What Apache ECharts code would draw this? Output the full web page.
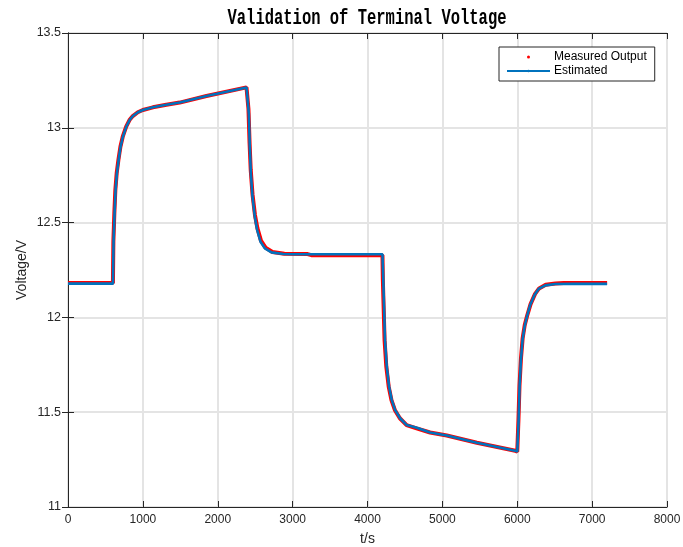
<!DOCTYPE html>
<html>
<head>
<meta charset="utf-8">
<script src="https://cdn.jsdelivr.net/npm/echarts@6/dist/echarts.min.js"></script>
<style>
  html, body { margin: 0; padding: 0; background: #fff; }
  #chart { width: 683px; height: 547px; }
</style>
</head>
<body>
<div id="chart"></div>
<script>
// Terminal voltage: measured samples vs. model estimate
const estTime = [0, 600, 609, 622, 635, 653, 676, 702, 733, 779, 823, 867, 934, 1001, 1134, 1314, 1492, 1849, 2384, 2400,
  2415, 2428, 2442, 2464, 2495, 2526, 2571, 2629, 2718, 2874, 3000, 4200,
  4211, 4221, 4234, 4257, 4288, 4324, 4368, 4435, 4524, 4658, 4836, 5059, 5461, 5973, 6000,
  6018, 6031, 6049, 6071, 6098, 6130, 6174, 6232, 6285, 6375, 6508, 6753, 7200];
const estVolt = [12.178, 12.178, 12.41, 12.55, 12.67, 12.76, 12.83, 12.90, 12.953, 13.006, 13.041, 13.062, 13.082, 13.094, 13.108, 13.122, 13.133, 13.168, 13.213, 13.215,
  13.076, 12.90, 12.76, 12.637, 12.531, 12.461, 12.399, 12.364, 12.343, 12.334, 12.333, 12.333,
  12.197, 12.056, 11.88, 11.741, 11.635, 11.564, 11.512, 11.468, 11.432, 11.418, 11.393, 11.377, 11.339, 11.297, 11.292,
  11.459, 11.635, 11.776, 11.882, 11.952, 12.005, 12.067, 12.12, 12.15, 12.169, 12.176, 12.177, 12.177];

const measTime = [0, 600, 606, 619, 632, 650, 673, 700, 731, 777, 821, 865, 932, 1000, 1134, 1314, 1492, 1849, 2384, 2400,
  2410, 2425, 2440, 2464, 2497, 2530, 2577, 2638, 2730, 2890, 3200, 3250, 4200,
  4205, 4215, 4228, 4251, 4283, 4320, 4365, 4432, 4522, 4656, 4836, 5059, 5461, 5973, 6000,
  6016, 6030, 6049, 6072, 6100, 6133, 6178, 6238, 6292, 6380, 6510, 6620, 7200];
const measVolt = [12.182, 12.182, 12.40, 12.55, 12.67, 12.76, 12.83, 12.90, 12.953, 13.006, 13.041, 13.062, 13.082, 13.094, 13.108, 13.122, 13.133, 13.168, 13.213, 13.218,
  13.10, 12.92, 12.78, 12.65, 12.54, 12.47, 12.405, 12.368, 12.345, 12.336, 12.334, 12.328, 12.328,
  12.20, 12.06, 11.88, 11.741, 11.635, 11.564, 11.512, 11.468, 11.432, 11.415, 11.393, 11.377, 11.339, 11.297, 11.292,
  11.46, 11.64, 11.78, 11.89, 11.96, 12.01, 12.07, 12.124, 12.153, 12.172, 12.179, 12.182, 12.182];

const xTicks = { min: 0, max: 8000, interval: 1000 };
const yTicks = { min: 11, max: 13.5, interval: 0.5 };

const pair = (ts, vs) => ts.map((t, i) => [t, vs[i]]);

const FONT = 'Liberation Sans, Arial, Helvetica, sans-serif';
const INK = '#262626';

const chart = echarts.init(document.getElementById('chart'), null, { renderer: 'canvas' });

const baseAxis = {
  axisLine: { show: true, lineStyle: { color: INK, width: 1 } },
  axisTick: { show: true, inside: true, length: 6, lineStyle: { color: INK, width: 1 } },
};

chart.setOption({
  animation: false,
  backgroundColor: '#fff',
  grid: { left: 68, right: 16, top: 33, bottom: 40, containLabel: false, outerBoundsMode: 'none' },
  graphic: [{
    type: 'text',
    x: 367, y: 18,
    scaleY: 1.45,
    style: {
      text: 'Validation of Terminal Voltage',
      font: 'bold 15.5px "Liberation Mono", "DejaVu Sans Mono", monospace',
      fill: '#000',
      align: 'center',
      verticalAlign: 'middle'
    }
  }],
  legend: {
    orient: 'vertical',
    left: 499, top: 47,
    padding: [4, 8, 4, 7],
    itemGap: 2,
    itemWidth: 43,
    itemHeight: 3,
    backgroundColor: '#fff',
    borderColor: INK,
    borderWidth: 1,
    textStyle: { fontFamily: FONT, fontSize: 12, color: '#000', padding: [0, 0, 0, -1] },
    data: [
      { name: 'Measured Output', icon: 'circle' },
      { name: 'Estimated' }
    ]
  },
  xAxis: [
    Object.assign({
      type: 'value', position: 'bottom',
      min: xTicks.min, max: xTicks.max, interval: xTicks.interval,
      name: 't/s', nameLocation: 'middle', nameGap: 25,
      nameTextStyle: { fontFamily: FONT, fontSize: 14, color: INK },
      axisLabel: { fontFamily: FONT, fontSize: 12, color: INK, margin: 7, formatter: v => String(v) },
      splitLine: { show: true, lineStyle: { color: '#e4e4e4', width: 2 } }
    }, baseAxis),
    Object.assign({
      type: 'value', position: 'top',
      min: xTicks.min, max: xTicks.max, interval: xTicks.interval,
      axisLabel: { show: false },
      splitLine: { show: false }
    }, baseAxis)
  ],
  yAxis: [
    Object.assign({
      type: 'value', position: 'left',
      min: yTicks.min, max: yTicks.max, interval: yTicks.interval,
      name: 'Voltage/V', nameLocation: 'middle', nameGap: 39, nameMoveOverlap: false,
      nameTextStyle: { fontFamily: FONT, fontSize: 14, color: INK },
      axisLabel: { fontFamily: FONT, fontSize: 12.5, color: INK, margin: 7 },
      splitLine: { show: true, lineStyle: { color: '#e4e4e4', width: 2 } }
    }, baseAxis),
    Object.assign({
      type: 'value', position: 'right',
      min: yTicks.min, max: yTicks.max, interval: yTicks.interval,
      axisLabel: { show: false },
      splitLine: { show: false }
    }, baseAxis)
  ],
  series: [
    {
      name: 'Measured Output',
      type: 'line',
      data: pair(measTime, measVolt),
      symbol: 'none',
      itemStyle: { color: '#ff0000' },
      lineStyle: { color: '#ff0000', width: 4 },
      z: 2
    },
    {
      name: 'Estimated',
      type: 'line',
      data: pair(estTime, estVolt),
      symbol: 'none',
      itemStyle: { color: '#0072bd' },
      lineStyle: { color: '#0072bd', width: 2.6 },
      z: 3
    }
  ]
});
</script>
</body>
</html>
